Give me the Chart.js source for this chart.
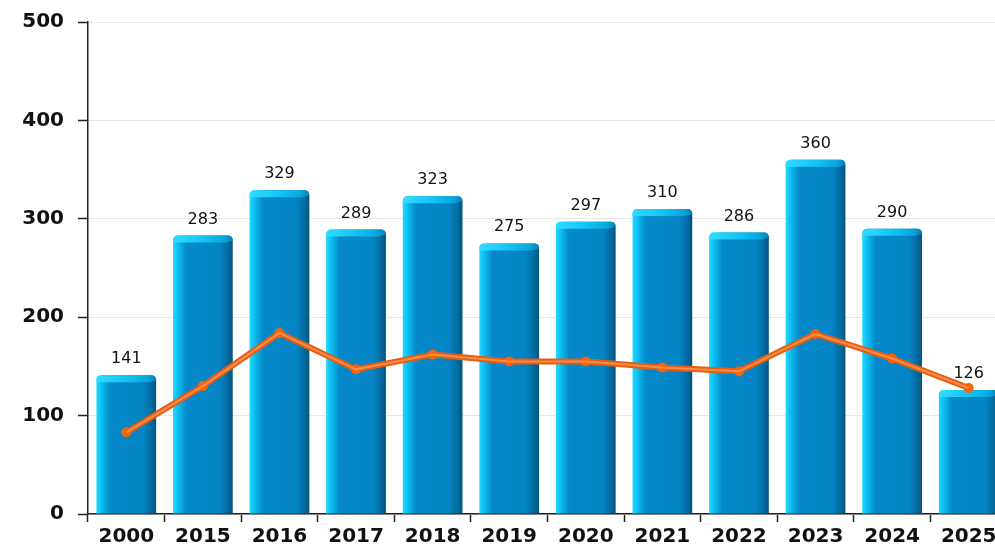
<!DOCTYPE html>
<html>
<head>
<meta charset="utf-8">
<script src="https://cdn.jsdelivr.net/npm/chart.js@4/dist/chart.umd.min.js"></script>
<style>
  html, body { margin: 0; padding: 0; background: #fff; overflow: hidden; }
  .wrap { width: 1012px; height: 546px; position: relative; }
</style>
</head>
<body>
<div class="wrap"><canvas id="yearChart"></canvas></div>
<script>
const years = ["2000", "2015", "2016", "2017", "2018", "2019", "2020", "2021", "2022", "2023", "2024", "2025"];
const barValues = [141, 283, 329, 289, 323, 275, 297, 310, 286, 360, 290, 126];
const lineValues = [83, 130, 184, 147, 162, 155, 155, 149, 145, 183, 158, 128];
const yTicks = [0, 100, 200, 300, 400, 500];

const BAR_PCT = 0.78;

// horizontal gradient per bar, computed from the x scale
function barGradient(ctx) {
  const chart = ctx.chart;
  const xs = chart.scales.x;
  if (!chart.chartArea || !xs || ctx.dataIndex === undefined) return "#0a88c8";
  const cx = xs.getPixelForValue(ctx.dataIndex);
  const w = (xs.width / years.length) * BAR_PCT;
  const g = chart.ctx.createLinearGradient(cx - w / 2, 0, cx + w / 2, 0);
  g.addColorStop(0, "#22d8ff");
  g.addColorStop(0.08, "#0cc0f2");
  g.addColorStop(0.22, "#0589cb");
  g.addColorStop(0.78, "#0484c4");
  g.addColorStop(0.9, "#036ea6");
  g.addColorStop(1, "#02557c");
  return g;
}

// bevel on top of every bar
const bevelPlugin = {
  id: "bevel",
  afterDatasetDraw(chart, args) {
    if (args.index !== 0) return;
    const c = chart.ctx;
    const area = chart.chartArea;
    c.save();
    c.beginPath();
    c.rect(area.left, area.top - 2, area.right - area.left, area.bottom - area.top + 2);
    c.clip();
    args.meta.data.forEach((el) => {
      const l = el.x - el.width / 2;
      const r = el.x + el.width / 2;
      const t = el.y;
      const d = 7;
      const g = c.createLinearGradient(l, 0, r, 0);
      g.addColorStop(0, "#30dcff");
      g.addColorStop(0.5, "#12c4f6");
      g.addColorStop(0.85, "#0aa6de");
      g.addColorStop(1, "#0580b4");
      c.fillStyle = g;
      c.beginPath();
      c.moveTo(l + 5, t);
      c.lineTo(r - 5, t);
      c.quadraticCurveTo(r, t, r, t + 5);
      c.lineTo(r - d, t + d);
      c.lineTo(l + d, t + d);
      c.lineTo(l, t + d);
      c.lineTo(l, t + 5);
      c.quadraticCurveTo(l, t, l + 5, t);
      c.closePath();
      c.fill();
    });
    c.restore();
  }
};

// value labels above bars
const valueLabels = {
  id: "valueLabels",
  afterDatasetsDraw(chart) {
    const c = chart.ctx;
    const meta = chart.getDatasetMeta(0);
    c.save();
    c.font = "16px 'DejaVu Sans'";
    c.fillStyle = "#111";
    c.textAlign = "center";
    c.textBaseline = "alphabetic";
    meta.data.forEach((el, i) => {
      c.fillText(String(barValues[i]), el.x, el.y - 12);
    });
    c.restore();
  }
};

const canvas = document.getElementById("yearChart");
new Chart(canvas, {
  data: {
    labels: years,
    datasets: [
      {
        type: "bar",
        data: barValues,
        backgroundColor: barGradient,
        borderWidth: 0,
        borderRadius: { topLeft: 5, topRight: 5, bottomLeft: 0, bottomRight: 0 },
        borderSkipped: "bottom",
        barPercentage: BAR_PCT,
        categoryPercentage: 1,
        order: 2
      },
      {
        type: "line",
        data: lineValues,
        borderColor: "#e65e12",
        borderWidth: 6,
        tension: 0,
        pointRadius: 5,
        pointBackgroundColor: "#f7640c",
        pointBorderWidth: 0,
        order: 1
      },
      {
        type: "line",
        data: lineValues,
        borderColor: "rgba(255, 160, 100, 0.7)",
        borderWidth: 2,
        tension: 0,
        pointRadius: 0,
        order: 0
      }
    ]
  },
  options: {
    responsive: true,
    maintainAspectRatio: false,
    animation: false,
    layout: { padding: { top: 22, right: 2, left: 0, bottom: 0 } },
    plugins: {
      legend: { display: false },
      tooltip: { enabled: false }
    },
    scales: {
      x: {
        grid: {
          display: true,
          drawOnChartArea: false,
          drawTicks: true,
          tickLength: 8,
          tickColor: "#222",
          tickWidth: 1.5
        },
        border: { display: true, color: "#222", width: 1.5 },
        ticks: {
          color: "#111",
          font: { family: "'DejaVu Sans'", size: 20, weight: "bold" },
          padding: 3,
          maxRotation: 0,
          autoSkip: false
        },
        afterFit(scale) { scale.height = 32; }
      },
      y: {
        min: 0,
        max: 500,
        afterBuildTicks(scale) {
          scale.ticks = yTicks.map((v) => ({ value: v }));
        },
        grid: {
          color: "#e6e6e6",
          lineWidth: 1,
          tickColor: "#222",
          tickLength: 10,
          tickWidth: 1.5
        },
        border: { display: true, color: "#222", width: 1.5 },
        ticks: {
          color: "#111",
          font: { family: "'DejaVu Sans'", size: 20, weight: "bold" },
          padding: 14
        },
        afterFit(scale) {
          scale.width = 88;
          scale.paddingTop = 0;
          scale.paddingBottom = 0;
        }
      }
    }
  },
  plugins: [bevelPlugin, valueLabels]
});
</script>
</body>
</html>
